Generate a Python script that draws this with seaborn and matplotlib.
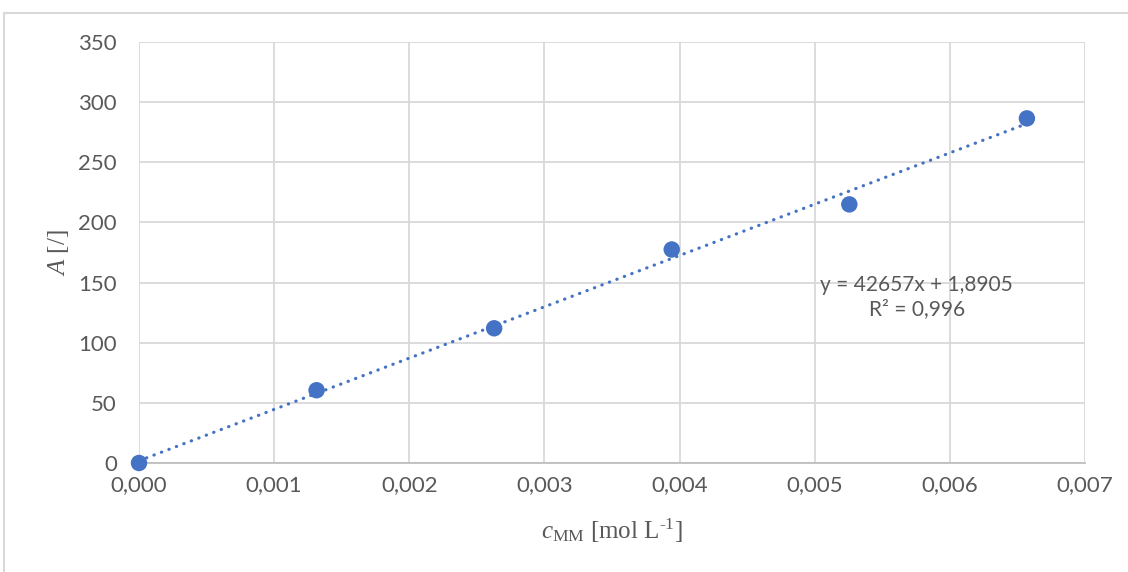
import numpy as np
import pandas as pd
import matplotlib
matplotlib.use("Agg")
import matplotlib.pyplot as plt
from matplotlib.ticker import FuncFormatter
import seaborn as sns

# Calibration data: concentration of MM vs. response A
conc = [0.0, 0.001314, 0.002628, 0.003942, 0.005256, 0.006570]
response = [0.0, 60.5, 112.0, 177.5, 215.0, 286.5]

# Linear trendline coefficients and fit quality
slope = 42657
intercept = 1.8905
r_squared = 0.996

x_ticks = [0.000, 0.001, 0.002, 0.003, 0.004, 0.005, 0.006, 0.007]
y_ticks = [0, 50, 100, 150, 200, 250, 300, 350]

sns.set_theme(style="whitegrid")
plt.rcParams["font.family"] = ["Lato", "DejaVu Sans"]
plt.rcParams["mathtext.fontset"] = "custom"
plt.rcParams["mathtext.rm"] = "Liberation Serif"
plt.rcParams["mathtext.it"] = "Liberation Serif:italic"

BLUE = "#4472C4"
GRID = "#D9D9D9"
TEXT = "#595959"

fig = plt.figure(figsize=(11.28, 5.72), dpi=100)
ax = fig.add_axes([139 / 1128, 1 - 463 / 572, (1085 - 139) / 1128, (463 - 42) / 572])

df = pd.DataFrame({"c": conc, "A": response})

# Trendline drawn from the stated equation
trend = pd.DataFrame({"c": [conc[0], conc[-1]]})
trend["A"] = slope * trend["c"] + intercept
sns.lineplot(data=trend, x="c", y="A", ax=ax, color=BLUE, linewidth=2.3,
             linestyle=(0, (0.1, 2.4)), zorder=3)
plt.setp(ax.lines, dash_capstyle="round", solid_capstyle="round")

sns.scatterplot(data=df, x="c", y="A", ax=ax, color=BLUE, s=140,
                edgecolor="none", zorder=4, clip_on=False)

ax.set_xlim(0, 0.007)
ax.set_ylim(0, 350)
ax.set_xticks(x_ticks)
ax.set_yticks(y_ticks)
ax.xaxis.set_major_formatter(FuncFormatter(lambda v, p: f"{v:.3f}".replace(".", ",")))
ax.yaxis.set_major_formatter(FuncFormatter(lambda v, p: f"{v:.0f}"))

ax.grid(True, color=GRID, linewidth=1.3)
ax.set_axisbelow(True)
for side in ["top", "right", "left"]:
    ax.spines[side].set_visible(False)
ax.spines["bottom"].set_color("#BFBFBF")
ax.spines["bottom"].set_linewidth(1.3)
ax.spines["bottom"].set_zorder(2)

ax.tick_params(axis="both", length=0, labelsize=16, labelcolor=TEXT)
ax.tick_params(axis="y", pad=16)
ax.tick_params(axis="x", pad=9)

ax.set_xlabel("$c_{\\mathrm{MM}}$ [mol L$^{\\mathrm{\u20101}}$]", fontsize=18,
              color=TEXT, family="Liberation Serif")
ax.set_ylabel(r"$A$ [/]", fontsize=18, color=TEXT, family="Liberation Serif")
ax.xaxis.set_label_coords(0.5, -0.128)
ax.yaxis.set_label_coords(-0.072, 0.5)

eq = f"y = {slope}x + {intercept:.4f}".replace(".", ",")
r2 = f"R² = {r_squared:.3f}".replace(".", ",")
ax.text(0.005755, 138, eq + "\n" + r2, ha="center", va="center",
        fontsize=15, color=TEXT, linespacing=1.3)

# Chart area border
fig.add_artist(plt.Line2D([4 / 1128, 1], [1 - 13 / 572, 1 - 13 / 572],
                          transform=fig.transFigure, color=GRID, linewidth=1.5))
fig.add_artist(plt.Line2D([4 / 1128, 4 / 1128], [0, 1 - 13 / 572],
                          transform=fig.transFigure, color=GRID, linewidth=1.5))

fig.savefig("out.png", dpi=100, facecolor="white")
